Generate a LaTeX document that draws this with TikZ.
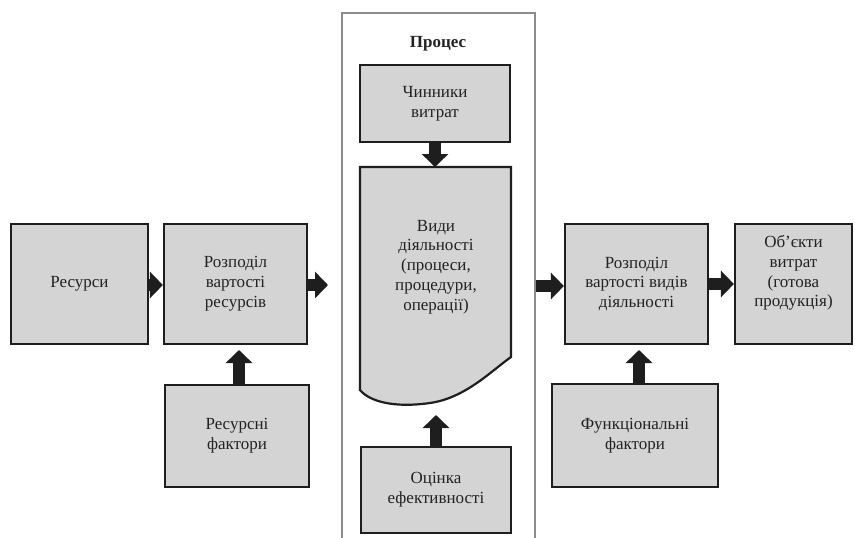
\documentclass[tikz,border=0pt]{standalone}
\usepackage{fontspec}
\setmainfont{Liberation Serif}
\usetikzlibrary{arrows.meta}
\definecolor{boxfill}{HTML}{D4D4D4}
\definecolor{boxline}{HTML}{1E1E1E}
\definecolor{txtcol}{HTML}{222222}
\definecolor{framecol}{HTML}{8C8C8C}
\tikzset{
  box/.style={draw=boxline, line width=2.2pt, fill=boxfill, rectangle, inner sep=0pt,
    text=txtcol, align=center, font=\fontsize{17}{19.8}\selectfont},
  txt/.style={text=txtcol, align=center, font=\fontsize{17}{19.8}\selectfont, inner sep=0pt},
  blockarrow/.style={draw=boxline, line width=12pt,
    -{Triangle[width=26pt,length=13pt]}, color=boxline},
  frameline/.style={draw=framecol, line width=2pt}
}
\begin{document}
\begin{tikzpicture}[x=1pt,y=-1pt]
\useasboundingbox (0,0) rectangle (855,538);
% process frame
\draw[frameline] (342,545) -- (342,13) -- (535,13) -- (535,545);
\node[txt, font=\fontsize{17}{19.8}\selectfont\bfseries] (proc) at (438,44) {Процес};
% left boxes
\node[box, minimum width=137pt, minimum height=120pt] (res) at (79.5,284) {Ресурси};
\node[box, minimum width=143pt, minimum height=120pt] (rozp1) at (235.5,284) {Розподіл\\вартості\\ресурсів};
\node[box, minimum width=144pt, minimum height=102pt] (resf) at (237,436) {Ресурсні\\фактори};
% process boxes
\node[box, minimum width=150pt, minimum height=77pt] (chyn) at (435,103.5) {Чинники\\витрат};
\draw[draw=boxline, line width=2.2pt, fill=boxfill, line join=miter]
  (360,167) -- (511,167) -- (511,357)
  .. controls (490,372) and (465,398) .. (430,403)
  .. controls (395,408) and (370,402) .. (360,390) -- cycle;
\node[txt] (vydy) at (436,267) {Види\\діяльності\\(процеси,\\процедури,\\операції)};
\coordinate (doctop) at (435,167);
\coordinate (docbot) at (436,415);
\node[box, minimum width=150pt, minimum height=86pt] (ocin) at (436,490) {Оцінка\\ефективності};
% right boxes
\node[box, minimum width=143pt, minimum height=120pt] (rozp2) at (636.5,284) {Розподіл\\вартості видів\\діяльності};
\node[box, minimum width=117pt, minimum height=120pt] (obj) at (793.5,284) {};
\node[txt] (objt) at (793.5,273) {Об’єкти\\витрат\\(готова\\продукція)};
\node[box, minimum width=166pt, minimum height=103pt] (func) at (635,435.5) {Функціональні\\фактори};
% free arrow ends
\coordinate (frameL) at (328,285);
\coordinate (frameR) at (536,286);
% arrows
\draw[blockarrow] (res.east |- 0,285) -- (rozp1.west |- 0,285);
\draw[blockarrow] (rozp1.east |- 0,285) -- (frameL);
\draw[blockarrow] (frameR) -- (rozp2.west |- frameR);
\draw[blockarrow] (rozp2.east |- 0,284) -- (obj.west |- 0,284);
\draw[blockarrow] (resf.north -| 239,0) -- (239,350);
\draw[blockarrow] (func.north -| 639,0) -- (639,350);
\draw[blockarrow] (chyn.south) -- (doctop);
\draw[blockarrow] (ocin.north) -- (docbot);
\end{tikzpicture}
\end{document}
